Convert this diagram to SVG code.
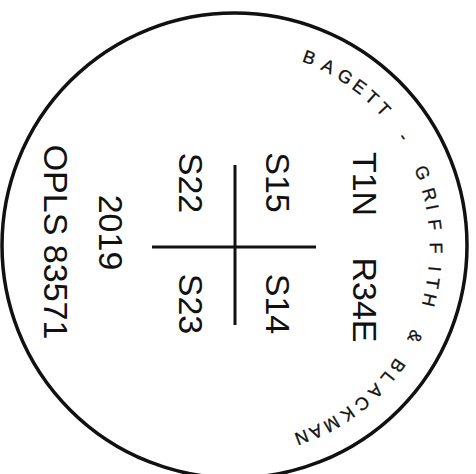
<svg xmlns="http://www.w3.org/2000/svg" width="476" height="474" viewBox="0 0 476 474">
<style>
.t{font-family:"Liberation Sans",Arial,sans-serif;font-size:34px;fill:#111;text-anchor:middle}
.arc{font-family:"Liberation Sans",Arial,sans-serif;font-size:18px;fill:#111;stroke:#111;stroke-width:0.3}
.ln{stroke:#111;stroke-width:3;fill:none}
</style>
<rect width="476" height="474" fill="#fff"/>
<circle cx="234.5" cy="245.5" r="232.5" class="ln" style="stroke-width:3.5"/>
<g id="cross">
<line x1="235" y1="165" x2="235" y2="325" class="ln"/>
<line x1="152" y1="247" x2="316" y2="247" class="ln"/>
</g>
<g id="labels">
<text class="t" transform="translate(352.5,184) rotate(90)">T1N</text>
<text class="t" transform="translate(352.5,300) rotate(90)">R34E</text>
<text class="t" transform="translate(265.5,182.5) rotate(90)">S15</text>
<text class="t" transform="translate(265.5,304) rotate(90)">S14</text>
<text class="t" transform="translate(178.5,183) rotate(90)">S22</text>
<text class="t" transform="translate(178.5,304) rotate(90)">S23</text>
<text class="t" transform="translate(98.5,232.5) rotate(90)">2019</text>
<text class="t" transform="translate(44,242) rotate(90)">OPLS 83571</text>
</g>
<g id="ring-text">
<text class="arc" xml:space="preserve"
x="301.4 319.9 336.1 350.9 363.7 375.2 387.26 397.2 406.84 413.9 421.7 425.7 428.1 429.7 428.8 427.6 424.7 419.06 412.1 403.54 395.9 386.1 375.4 363.0 349.0 335.0 319.0 305.6"
y="61.3 69.3 78.2 88.1 98.5 109.6 123.99 137.5 153.85 168.7 189.9 206.1 220.0 242.5 265.8 276.7 292.2 309.06 328.4 343.10 357.2 370.3 382.6 394.6 405.6 414.9 423.4 429.2"
rotate="20.04 25.95 31.38 36.64 41.47 46.17 51.5 56.52 62 66.88 73.62 78.55 82.67 89.27 95.55 98.57 103.12 109 114.54 120 124.24 129.10 133.84 138.92 144.14 149.05 154.44 158.72">BAGETT - GRIFFITH &amp; BLACKMAN</text>
</g>
</svg>
